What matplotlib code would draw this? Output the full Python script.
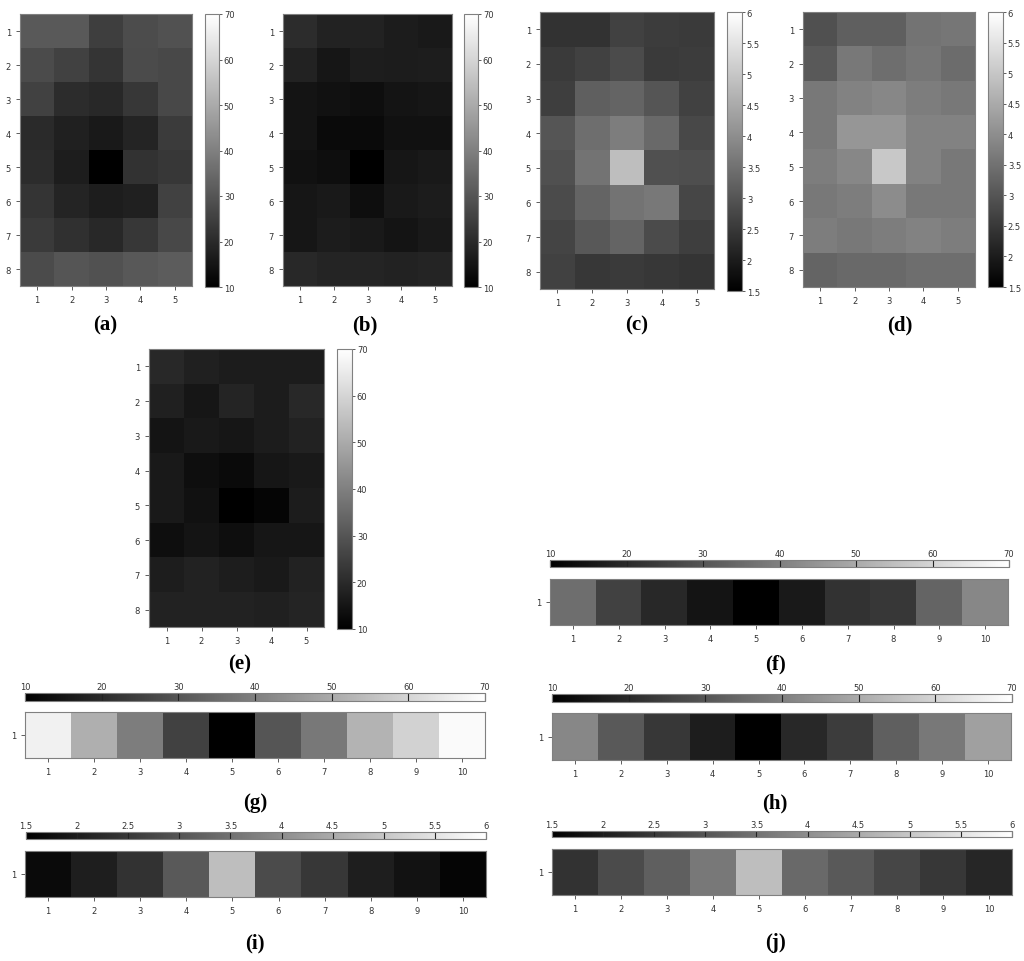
import numpy as np
import matplotlib.pyplot as plt
from matplotlib.colors import Normalize

W, H = 1024, 962

rows_8 = [1, 2, 3, 4, 5, 6, 7, 8]
cols_5 = [1, 2, 3, 4, 5]
cols_10 = [1, 2, 3, 4, 5, 6, 7, 8, 9, 10]

panel_a = [
    [31.0, 31.0, 24.6, 28.0, 29.0],
    [27.6, 25.3, 22.2, 27.6, 27.0],
    [25.3, 20.6, 19.4, 23.0, 27.0],
    [19.9, 17.5, 15.9, 18.9, 24.0],
    [20.6, 17.0, 10.0, 21.8, 23.0],
    [22.2, 18.9, 17.0, 17.8, 25.3],
    [23.6, 21.3, 19.4, 23.0, 27.0],
    [27.6, 30.0, 29.3, 30.7, 31.6],
]
panel_b = [
    [20.6, 18.2, 18.2, 16.6, 15.9],
    [18.2, 15.2, 17.0, 16.6, 17.0],
    [14.7, 14.2, 13.5, 14.7, 15.2],
    [14.7, 12.4, 12.4, 14.2, 14.2],
    [14.2, 13.5, 10.0, 15.2, 15.9],
    [15.2, 15.9, 13.5, 15.9, 16.6],
    [15.2, 16.6, 15.9, 14.7, 15.9],
    [19.4, 18.9, 18.9, 18.2, 18.9],
]
panel_c = [
    [2.38, 2.38, 2.65, 2.56, 2.52],
    [2.52, 2.65, 2.82, 2.52, 2.56],
    [2.59, 3.18, 3.26, 3.00, 2.65],
    [3.00, 3.44, 3.70, 3.35, 2.77],
    [2.91, 3.53, 4.85, 2.91, 2.88],
    [2.82, 3.26, 3.53, 3.62, 2.74],
    [2.70, 3.05, 3.26, 2.82, 2.59],
    [2.65, 2.47, 2.52, 2.47, 2.42],
]
panel_d = [
    [2.91, 3.18, 3.18, 3.53, 3.58],
    [3.09, 3.62, 3.44, 3.58, 3.40],
    [3.62, 3.79, 3.88, 3.71, 3.62],
    [3.62, 4.15, 4.15, 3.79, 3.79],
    [3.71, 3.88, 5.03, 3.79, 3.62],
    [3.62, 3.71, 3.97, 3.62, 3.62],
    [3.71, 3.62, 3.71, 3.79, 3.71],
    [3.26, 3.35, 3.35, 3.44, 3.44],
]
panel_e = [
    [19.4, 17.5, 16.6, 16.6, 16.6],
    [17.5, 15.2, 18.9, 16.6, 19.4],
    [14.7, 15.9, 15.2, 16.6, 18.2],
    [15.9, 13.5, 12.4, 15.2, 15.9],
    [15.9, 14.2, 10.0, 11.2, 16.6],
    [13.5, 14.7, 13.5, 15.2, 15.2],
    [17.0, 18.2, 17.0, 15.9, 18.2],
    [18.2, 18.2, 18.2, 17.5, 18.9],
]
panel_f = [35.9, 25.3, 19.4, 14.7, 10.0, 15.9, 21.8, 22.9, 33.5, 41.8]
panel_g = [66.5, 51.2, 39.4, 25.3, 10.0, 30.0, 38.2, 52.4, 59.4, 68.8]
panel_h = [41.8, 31.2, 22.9, 17.0, 10.0, 19.4, 24.1, 32.4, 38.2, 47.6]
panel_i = [1.68, 2.03, 2.38, 3.09, 4.85, 2.82, 2.47, 2.03, 1.82, 1.59]
panel_j = [2.38, 2.82, 3.18, 3.62, 4.85, 3.35, 3.09, 2.74, 2.47, 2.17]

range_big = (10, 70)
ticks_big = [10, 20, 30, 40, 50, 60, 70]
range_small = (1.5, 6)
ticks_small = [1.5, 2, 2.5, 3, 3.5, 4, 4.5, 5, 5.5, 6]

EDGE = "#808080"
TICK_FS = 6


def rect(x0, y0, x1, y1):
    return [x0 / W, 1 - y1 / H, (x1 - x0) / W, (y1 - y0) / H]


def fmt(v):
    return f"{v:g}"


def style_axes(ax):
    for s in ax.spines.values():
        s.set_color(EDGE)
        s.set_linewidth(0.8)
    ax.tick_params(labelsize=TICK_FS, length=3, width=0.6, color="#444444",
                   labelcolor="#333333", top=False, right=False)


def add_label(fig, label, label_xy):
    fig.text(label_xy[0] / W, 1 - label_xy[1] / H, label,
             ha="center", va="center", fontsize=15,
             family="Liberation Serif", fontweight="bold")


def grid_panel(fig, data, vlim, ticks, ax_box, cb_box, label, label_xy):
    ax = fig.add_axes(rect(*ax_box))
    arr = np.asarray(data)
    norm = Normalize(*vlim)
    im = ax.imshow(arr, cmap="gray", norm=norm, aspect="auto",
                   extent=(0.5, len(cols_5) + 0.5, len(rows_8) + 0.5, 0.5),
                   interpolation="nearest")
    ax.set_xticks(cols_5)
    ax.set_yticks(rows_8)
    style_axes(ax)
    cax = fig.add_axes(rect(*cb_box))
    cb = fig.colorbar(im, cax=cax, orientation="vertical")
    cb.set_ticks(ticks)
    cb.set_ticklabels([fmt(t) for t in ticks])
    cb.outline.set_edgecolor(EDGE)
    cb.outline.set_linewidth(0.8)
    cax.tick_params(labelsize=TICK_FS, length=2.5, width=0.6, direction="out",
                    color="#444444", labelcolor="#333333", pad=1)
    add_label(fig, label, label_xy)


def strip_panel(fig, data, vlim, ticks, ax_box, cb_box, label, label_xy):
    ax = fig.add_axes(rect(*ax_box))
    arr = np.asarray(data)[None, :]
    norm = Normalize(*vlim)
    im = ax.imshow(arr, cmap="gray", norm=norm, aspect="auto",
                   extent=(0.5, len(cols_10) + 0.5, 1.5, 0.5),
                   interpolation="nearest")
    ax.set_xticks(cols_10)
    ax.set_yticks([1])
    style_axes(ax)
    cax = fig.add_axes(rect(*cb_box))
    cb = fig.colorbar(im, cax=cax, orientation="horizontal")
    cb.set_ticks(ticks)
    cb.set_ticklabels([fmt(t) for t in ticks])
    cb.outline.set_edgecolor(EDGE)
    cb.outline.set_linewidth(0.8)
    cax.xaxis.set_ticks_position("top")
    cax.xaxis.set_label_position("top")
    # tick marks run across the bar, as in the reference
    bar_h_pt = (cb_box[3] - cb_box[1]) * 0.72
    cax.tick_params(labelsize=TICK_FS, length=bar_h_pt, width=0.8, direction="in",
                    color="#222222", labelcolor="#333333", pad=1.5)
    add_label(fig, label, label_xy)


fig = plt.figure(figsize=(W / 100, H / 100), dpi=100)
fig.patch.set_facecolor("white")

grid_panel(fig, panel_a, range_big, ticks_big, (20, 15, 192, 287), (205, 15, 219, 288), "(a)", (105, 325))
grid_panel(fig, panel_b, range_big, ticks_big, (283, 15, 452, 287), (464, 15, 478, 288), "(b)", (365, 325))
grid_panel(fig, panel_c, range_small, ticks_small, (540, 13, 714, 290), (727, 13, 742, 292), "(c)", (637, 325))
grid_panel(fig, panel_d, range_small, ticks_small, (803, 13, 975, 288), (988, 13, 1003, 288), "(d)", (900, 325))
grid_panel(fig, panel_e, range_big, ticks_big, (149, 350, 324, 628), (337, 350, 352, 630), "(e)", (240, 664))

strip_panel(fig, panel_f, range_big, ticks_big, (550, 580, 1008, 626), (550, 561, 1009, 568), "(f)", (775, 664))
strip_panel(fig, panel_g, range_big, ticks_big, (25, 713, 485, 759), (25, 694, 485, 702), "(g)", (255, 803))
strip_panel(fig, panel_h, range_big, ticks_big, (552, 714, 1011, 761), (552, 695, 1012, 703), "(h)", (775, 803))
strip_panel(fig, panel_i, range_small, ticks_small, (25, 852, 486, 898), (26, 833, 486, 840), "(i)", (255, 943))
strip_panel(fig, panel_j, range_small, ticks_small, (552, 850, 1012, 896), (552, 832, 1012, 838), "(j)", (775, 943))

fig.savefig("out.png", dpi=100, facecolor="white")
